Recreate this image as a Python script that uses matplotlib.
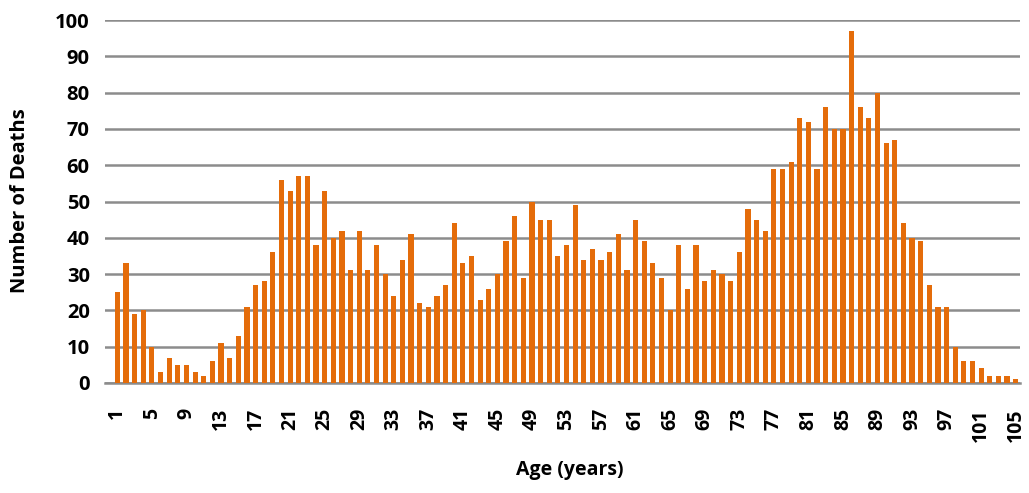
import matplotlib
matplotlib.use("Agg")
import matplotlib.pyplot as plt

ages = list(range(1, 106))
deaths = [25, 33, 19, 20, 10, 3, 7, 5, 5, 3,
          2, 6, 11, 7, 13, 21, 27, 28, 36, 56,
          53, 57, 57, 38, 53, 40, 42, 31, 42, 31,
          38, 30, 24, 34, 41, 22, 21, 24, 27, 44,
          33, 35, 23, 26, 30, 39, 46, 29, 50, 45,
          45, 35, 38, 49, 34, 37, 34, 36, 41, 31,
          45, 39, 33, 29, 20, 38, 26, 38, 28, 31,
          30, 28, 36, 48, 45, 42, 59, 59, 61, 73,
          72, 59, 76, 70, 70, 97, 76, 73, 80, 66,
          67, 44, 40, 39, 27, 21, 21, 10, 6, 6,
          4, 2, 2, 2, 1]
tick_ages = ages[::4]

plt.rcParams['font.family'] = ['Open Sans', 'DejaVu Sans']

fig = plt.figure(figsize=(10.29, 4.93), dpi=100)
# plot area in pixels: x 105..1020, y 20..383
ax = fig.add_axes([105 / 1029, 1 - 383 / 493, 915 / 1029, 363 / 493])

ax.bar(ages, deaths, width=0.6, color='#E46C0A', zorder=3)

ax.set_xlim(-0.43, 105.5)
ax.set_ylim(0, 100)
ax.set_yticks(range(0, 101, 10))
ax.set_xticks(tick_ages)
ax.set_xticklabels([str(a) for a in tick_ages], rotation=90, fontsize=14, fontweight='bold')
for lbl in ax.get_yticklabels():
    lbl.set_fontsize(14.5)
    lbl.set_fontweight('bold')

ax.grid(axis='y', color='#8c8c8c', linewidth=1.8, zorder=0)
ax.tick_params(axis='y', length=0, pad=11)
ax.tick_params(axis='x', length=0, pad=18)
for side in ['top', 'right', 'left']:
    ax.spines[side].set_visible(False)
ax.spines['bottom'].set_color('#8c8c8c')
ax.spines['bottom'].set_linewidth(1.8)

ax.set_xlabel('Age (years)', fontsize=14, fontweight='bold', va='center')
ax.set_ylabel('Number of Deaths', fontsize=14.5, fontweight='bold', va='center')
ax.xaxis.set_label_coords((570 - 105) / 915, (383 - 470) / 363)
ax.yaxis.set_label_coords((20 - 105) / 915, (383 - 201) / 363)

fig.savefig('out.png', dpi=100)
